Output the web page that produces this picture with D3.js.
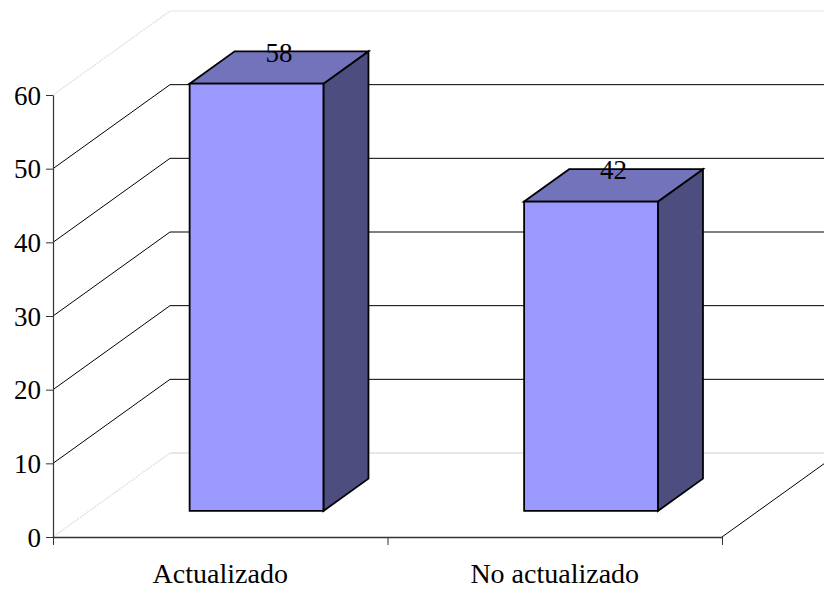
<!DOCTYPE html>
<html>
<head>
<meta charset="utf-8">
<script src="https://cdn.jsdelivr.net/npm/d3@7"></script>
<style>
  svg text { font-family: "Times New Roman", "Liberation Serif", Times, serif !important; }
</style>
</head>
<body style="margin:0;padding:0;background:#fff">
<script>
// Chart data
const categories = ["Actualizado", "No actualizado"];
const values = [58, 42];
const yTicks = [0, 10, 20, 30, 40, 50, 60];

const FONT = "Times New Roman, Liberation Serif, serif";

const W = 824, H = 590;
const svg = d3.select("body").append("svg")
  .attr("width", W).attr("height", H)
  .style("display", "block");
svg.append("rect").attr("width", W).attr("height", H).attr("fill", "#fff");

// Front plane of the 3D box
const x0 = 53, x1 = 722;
const y = d3.scaleLinear().domain([0, 60]).range([537, 95]);
const x = d3.scaleBand().domain(categories).range([x0, x1])
  .paddingInner(0.6).paddingOuter(0.3);

// Depth vector (front plane -> back wall)
const DX = 117, DY = -84;
const proj = (px, py, t) => [px + DX * t, py + DY * t];

// Bars sit between these depth fractions
const tFront = 0.31, tBack = 0.695;

const colors = { front: "#9999ff", top: "#7373bc", side: "#4d4d80" };

const g = svg.append("g");

// Back wall gridlines
yTicks.forEach(v => {
  const a = proj(x0, y(v), 1), b = proj(x1, y(v), 1);
  const edge = (v === 0 || v === 60);
  g.append("line")
    .attr("x1", a[0]).attr("y1", a[1]).attr("x2", b[0]).attr("y2", b[1])
    .attr("stroke", edge ? (v === 0 ? "#cfcfcf" : "#e4e4e4") : "#000")
    .attr("stroke-width", 1);
});

// Side wall lines from the axis ticks back to the wall
yTicks.forEach(v => {
  const b = proj(x0, y(v), 1);
  const edge = (v === 0 || v === 60);
  g.append("line")
    .attr("x1", x0).attr("y1", y(v)).attr("x2", b[0]).attr("y2", b[1])
    .attr("stroke", edge ? "#e2e2e2" : "#000")
    .attr("stroke-width", edge ? 1.5 : 1)
    .attr("stroke-dasharray", edge ? "2,1" : null);
});

// Right edge of the floor
{
  const b = proj(x1, y(0), 1);
  g.append("line")
    .attr("x1", x1).attr("y1", y(0)).attr("x2", b[0]).attr("y2", b[1])
    .attr("stroke", "#000").attr("stroke-width", 1);
}

// Bars
const pts = arr => arr.map(p => p.join(",")).join(" ");
categories.forEach((c, i) => {
  const v = values[i];
  const xl = x(c), xr = x(c) + x.bandwidth();
  const fBL = proj(xl, y(0), tFront), fBR = proj(xr, y(0), tFront);
  const fTL = proj(xl, y(v), tFront), fTR = proj(xr, y(v), tFront);
  const bTL = proj(xl, y(v), tBack), bTR = proj(xr, y(v), tBack);
  const bBR = proj(xr, y(0), tBack);
  const bar = g.append("g").attr("stroke", "#000").attr("stroke-width", 1.8)
    .attr("stroke-linejoin", "miter");
  bar.append("polygon").attr("points", pts([fTR, bTR, bBR, fBR])).attr("fill", colors.side);
  bar.append("polygon").attr("points", pts([fTL, bTL, bTR, fTR])).attr("fill", colors.top);
  bar.append("polygon").attr("points", pts([fTL, fTR, fBR, fBL])).attr("fill", colors.front);

  // Value label above the centre of the top face
  const tc = proj((xl + xr) / 2, y(v), (tFront + tBack) / 2);
  g.append("text")
    .attr("x", tc[0]).attr("y", tc[1] - 6)
    .attr("text-anchor", "middle")
    .attr("font-family", FONT)
    .attr("font-size", 27)
    .attr("fill", "#000")
    .text(v);
});

// Y axis
const yAxis = d3.axisLeft(y).tickValues(yTicks).tickSize(7).tickPadding(5).tickSizeOuter(0);
const ya = svg.append("g").attr("transform", `translate(${x0},0)`).call(yAxis)
  .attr("font-family", FONT).attr("font-size", 27);
ya.select(".domain").attr("stroke", "#333").attr("stroke-width", 1.2);
ya.selectAll(".tick line").attr("stroke", "#333");
ya.selectAll(".tick text").attr("fill", "#000").attr("dy", "0.34em");

// X axis: category boundaries as ticks, labels centred on each band
const xb = d3.scaleLinear().domain([0, categories.length]).range([x0, x1]);
const xAxis = d3.axisBottom(xb).tickValues(d3.range(categories.length + 1))
  .tickSize(8).tickSizeOuter(0).tickFormat("");
const xa = svg.append("g").attr("transform", `translate(0,${y(0)})`).call(xAxis);
xa.select(".domain").attr("stroke", "#333").attr("stroke-width", 1.5);
xa.selectAll(".tick line").attr("stroke", "#333");

categories.forEach((c, i) => {
  svg.append("text")
    .attr("x", (xb(i) + xb(i + 1)) / 2)
    .attr("y", 583)
    .attr("text-anchor", "middle")
    .attr("font-family", FONT)
    .attr("font-size", 28)
    .attr("fill", "#000")
    .text(c);
});
</script>
</body>
</html>
